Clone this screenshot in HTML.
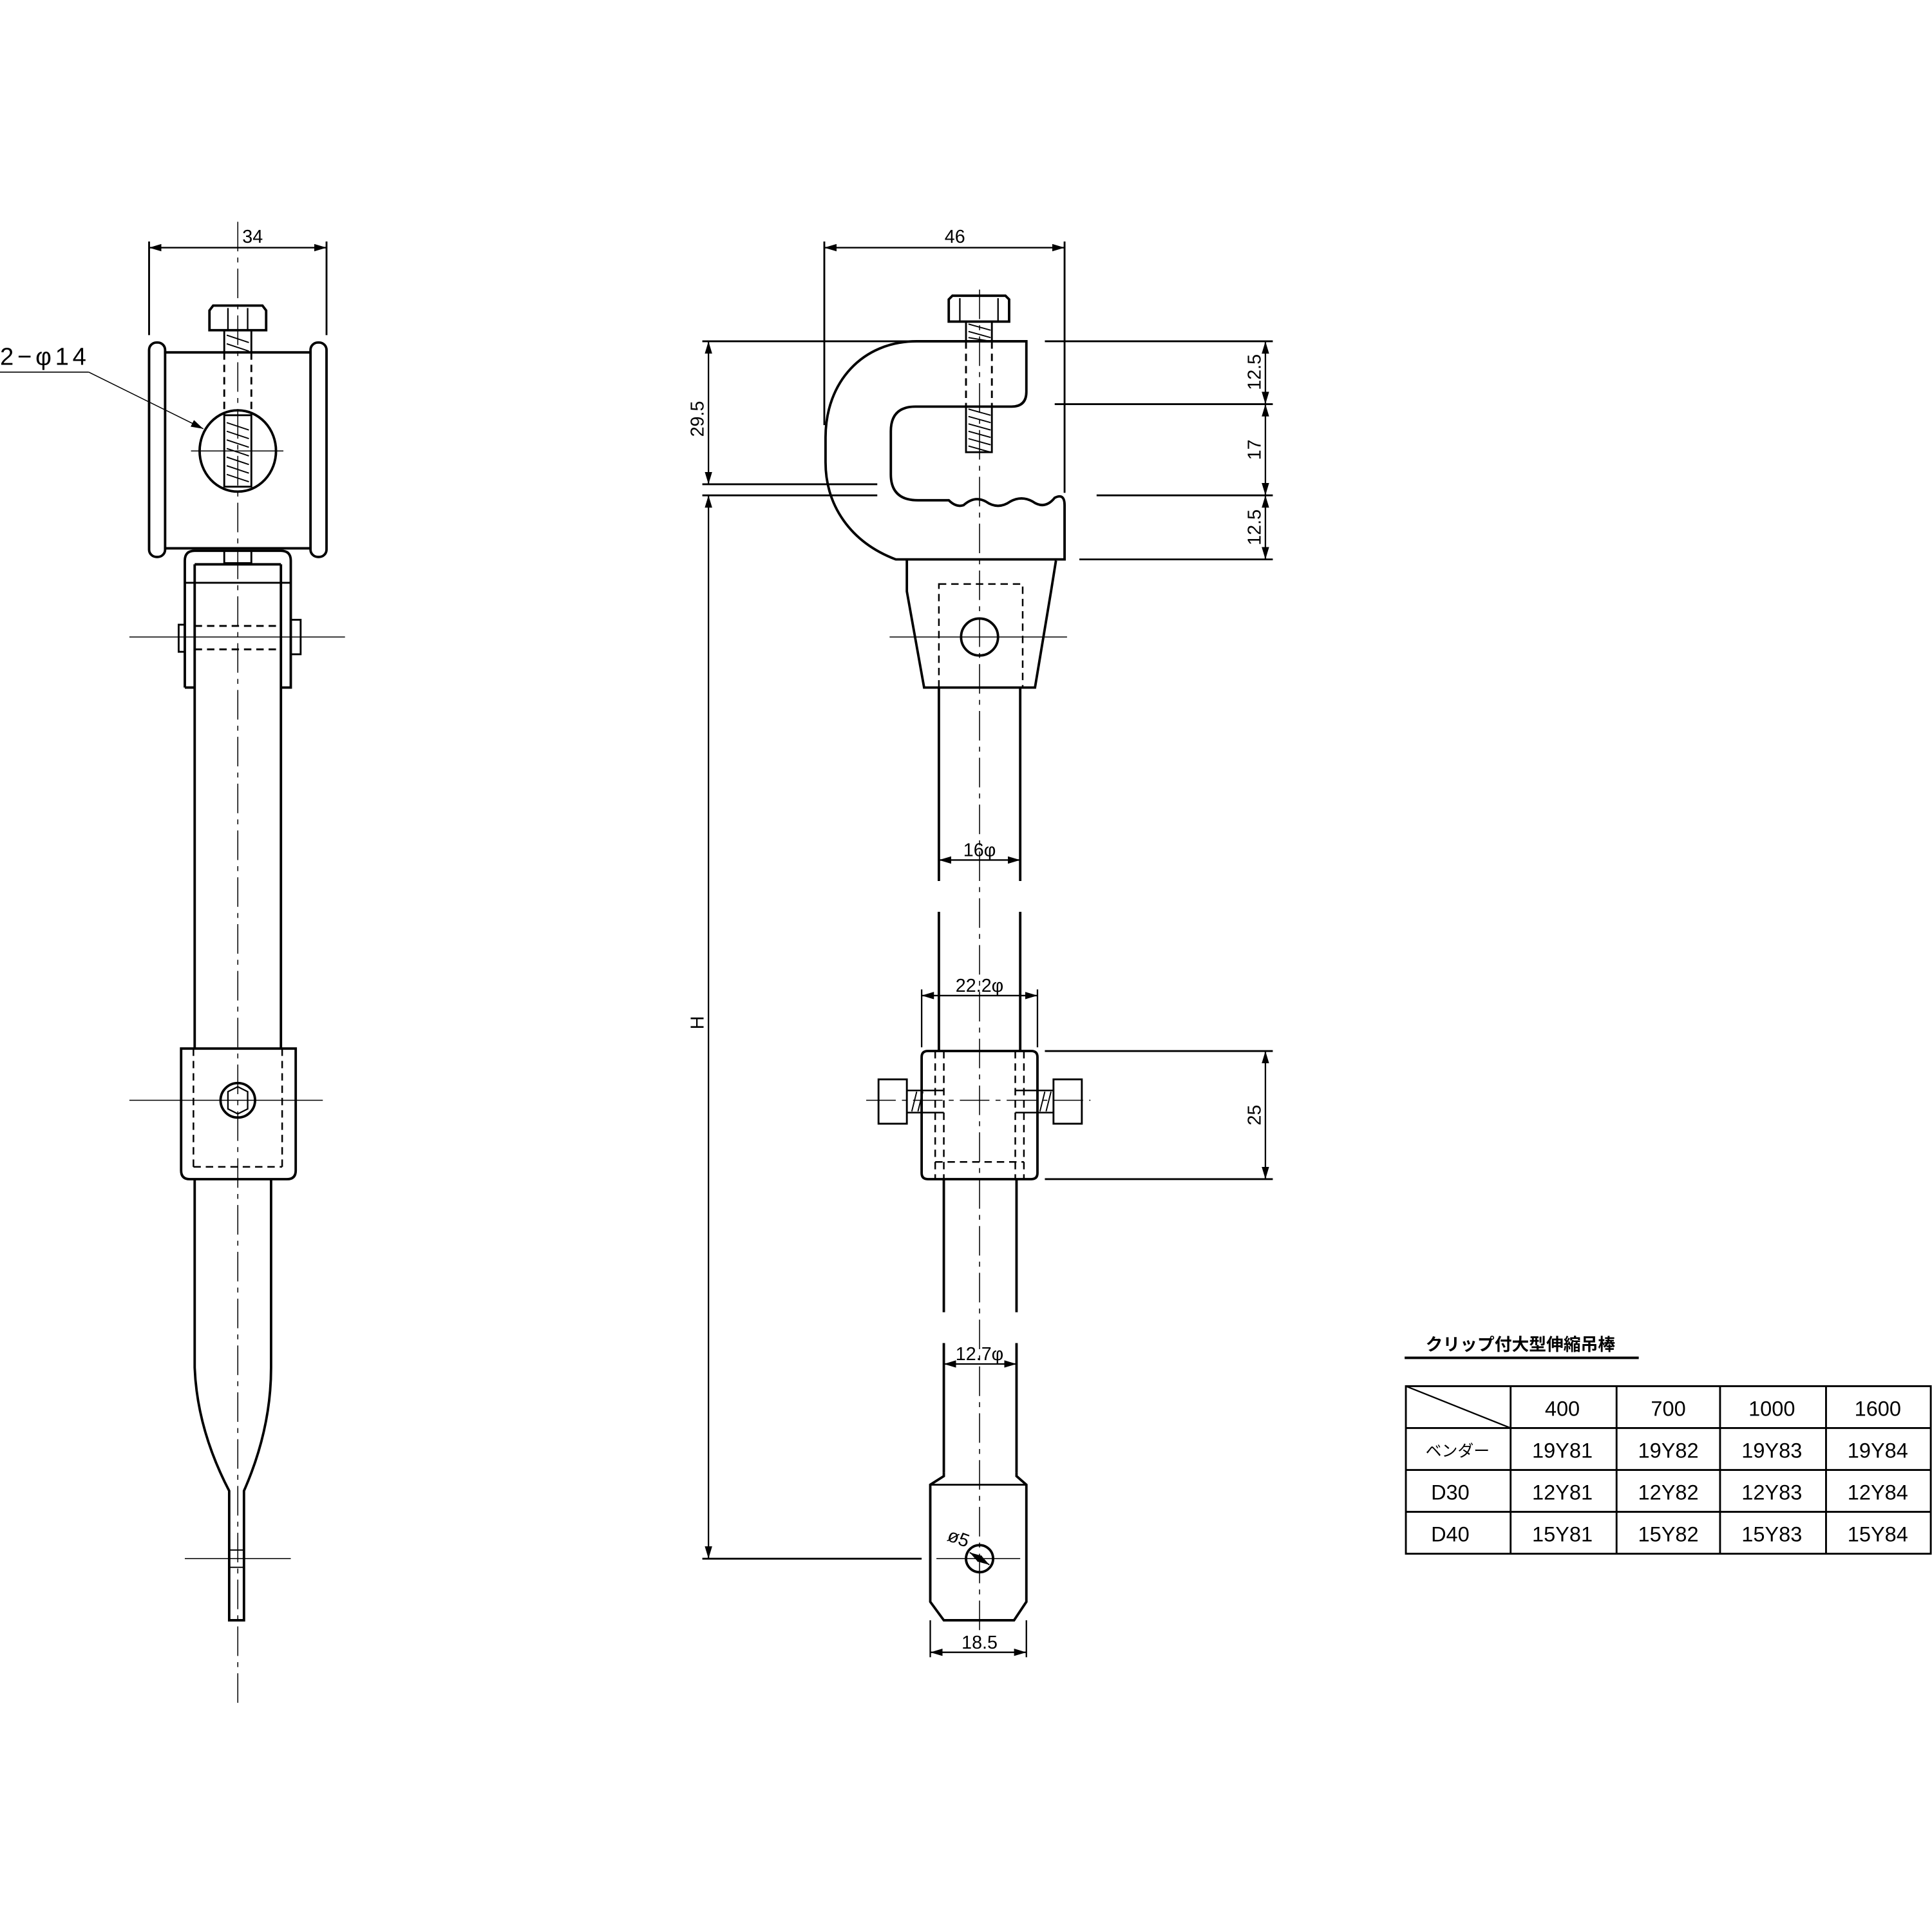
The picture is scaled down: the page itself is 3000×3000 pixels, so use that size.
<!DOCTYPE html>
<html><head><meta charset="utf-8"><style>
html,body{margin:0;padding:0;background:#fff}
svg{display:block}
text{font-family:"Liberation Sans","Noto Sans CJK JP",sans-serif;fill:#000}
</style></head><body>
<svg width="3000" height="3000" viewBox="0 0 1568 1568" xmlns="http://www.w3.org/2000/svg">
<defs>
<marker id="a" viewBox="0 0 10 6" refX="10" refY="3" markerWidth="10" markerHeight="6" orient="auto-start-reverse" markerUnits="userSpaceOnUse"><path d="M0,0 L10,3 L0,6 z" fill="#000"/></marker>
</defs>
<g fill="none" stroke="#000" stroke-width="2">
<!-- ===== LEFT VIEW ===== -->
<line x1="193" y1="180" x2="193" y2="1385" stroke-width="0.8" stroke-dasharray="24,5,4,5"/>
<line x1="121" y1="196" x2="121" y2="272" stroke-width="1.5"/>
<line x1="265" y1="196" x2="265" y2="272" stroke-width="1.5"/>
<line x1="121" y1="201" x2="265" y2="201" stroke-width="1.2" marker-start="url(#a)" marker-end="url(#a)"/>
<rect x="121" y="278" width="13" height="174" rx="6"/>
<rect x="252" y="278" width="13" height="174" rx="6"/>
<line x1="134" y1="286" x2="252" y2="286"/>
<line x1="134" y1="445" x2="252" y2="445"/>
<path d="M170,252 L173,248 L213,248 L216,252 L216,268 L170,268 Z"/>
<line x1="185" y1="250" x2="185" y2="268" stroke-width="1.2"/>
<line x1="201" y1="250" x2="201" y2="268" stroke-width="1.2"/>
<rect x="182" y="268" width="22" height="18" stroke-width="1.5"/>
<line x1="182" y1="286" x2="182" y2="337" stroke-dasharray="6,4" stroke-width="1.5"/>
<line x1="204" y1="286" x2="204" y2="337" stroke-dasharray="6,4" stroke-width="1.5"/>
<rect x="182" y="337" width="22" height="58" stroke-width="1.5"/>
<path d="M184,343 L202,349 M184,350 L202,356 M184,357 L202,363 M184,364 L202,370 M184,371 L202,377 M184,378 L202,384 M184,385 L202,391 M184,272 L202,278 M184,279 L202,285" stroke-width="1"/>
<ellipse cx="193" cy="366" rx="31" ry="33"/>
<line x1="155" y1="366" x2="230" y2="366" stroke-width="0.8"/>
<line x1="0" y1="302" x2="72" y2="302" stroke-width="0.8"/>
<line x1="72" y1="302" x2="165" y2="348" stroke-width="0.8" marker-end="url(#a)"/>
<path d="M150,558 L150,455 Q150,447 158,447 L228,447 Q236,447 236,455 L236,558 L228,558"/>
<path d="M150,558 L158,558"/>
<line x1="150" y1="473" x2="236" y2="473" stroke-width="1.5"/>
<rect x="182" y="447" width="22" height="10" stroke-width="1.5"/>
<rect x="145" y="507" width="5" height="22" stroke-width="1.5"/>
<rect x="236" y="503" width="8" height="28" stroke-width="1.5"/>
<line x1="158" y1="508" x2="228" y2="508" stroke-dasharray="6,4" stroke-width="1.5"/>
<line x1="158" y1="527" x2="228" y2="527" stroke-dasharray="6,4" stroke-width="1.5"/>
<line x1="105" y1="517" x2="280" y2="517" stroke-width="0.8"/>
<line x1="158" y1="458" x2="158" y2="851"/>
<line x1="228" y1="458" x2="228" y2="851"/>
<line x1="158" y1="458" x2="228" y2="458"/>
<path d="M147,851 L240,851 L240,950 Q240,957 233,957 L154,957 Q147,957 147,950 Z"/>
<line x1="157" y1="851" x2="157" y2="947" stroke-dasharray="6,4" stroke-width="1.3"/>
<line x1="229" y1="851" x2="229" y2="947" stroke-dasharray="6,4" stroke-width="1.3"/>
<line x1="157" y1="947" x2="229" y2="947" stroke-dasharray="6,4" stroke-width="1.3"/>
<circle cx="193" cy="893" r="14"/>
<polygon points="185,886 193,882 201,886 201,900 193,904 185,900" stroke-width="1.2"/>
<line x1="105" y1="893" x2="262" y2="893" stroke-width="0.8"/>
<path d="M158,957 L158,1110 Q160,1160 186,1210 L186,1315 L198,1315 L198,1210 Q220,1160 220,1110 L220,957"/>
<line x1="186" y1="1258" x2="198" y2="1258" stroke-width="1"/>
<line x1="186" y1="1272" x2="198" y2="1272" stroke-width="1"/>
<line x1="150" y1="1265" x2="236" y2="1265" stroke-width="0.8"/>

<!-- ===== RIGHT VIEW ===== -->
<line x1="795" y1="235" x2="795" y2="1330" stroke-width="0.8" stroke-dasharray="24,5,4,5"/>
<line x1="669" y1="196" x2="669" y2="345" stroke-width="1.5"/>
<line x1="864" y1="196" x2="864" y2="400" stroke-width="1.5"/>
<line x1="669" y1="201" x2="864" y2="201" stroke-width="1.2" marker-start="url(#a)" marker-end="url(#a)"/>
<path d="M744,277 L833,277 L833,318 Q833,330 821,330 L743,330 Q723,330 723,350 L723,385 Q723,406 745,406 L770,406 Q776,412 782,410 Q791,402 800,407 Q810,414 820,407 Q829,402 838,407 Q848,414 856,404 Q864,400 864,410 L864,454 L727,454 C690,440 670,410 670,375 L670,355 C670,310 700,277 744,277 Z"/>
<path d="M770,243 L773,240 L816,240 L819,243 L819,261 L770,261 Z"/>
<line x1="779" y1="242" x2="779" y2="261" stroke-width="1.2"/>
<line x1="810" y1="242" x2="810" y2="261" stroke-width="1.2"/>
<rect x="784" y="261" width="21" height="16" stroke-width="1.5"/>
<path d="M786,263 L804,268 M786,269 L804,274 M786,274 L804,277" stroke-width="1"/>
<line x1="784" y1="277" x2="784" y2="330" stroke-dasharray="6,4" stroke-width="1.5"/>
<line x1="805" y1="277" x2="805" y2="330" stroke-dasharray="6,4" stroke-width="1.5"/>
<rect x="784" y="330" width="21" height="37" stroke-width="1.5"/>
<path d="M786,332 L804,337 M786,338 L804,343 M786,344 L804,349 M786,350 L804,355 M786,356 L804,361 M786,362 L804,367" stroke-width="1"/>
<path d="M736,455 L736,480 L750,558 L840,558 L853,480 L857,455"/>
<rect x="762" y="474" width="68" height="84" stroke-dasharray="6,4" stroke-width="1.3"/>
<circle cx="795" cy="517" r="15"/>
<line x1="722" y1="517" x2="866" y2="517" stroke-width="0.8"/>
<line x1="762" y1="558" x2="762" y2="715"/>
<line x1="828" y1="558" x2="828" y2="715"/>
<line x1="762" y1="740" x2="762" y2="853"/>
<line x1="828" y1="740" x2="828" y2="853"/>
<line x1="762" y1="698" x2="828" y2="698" stroke-width="1.2" marker-start="url(#a)" marker-end="url(#a)"/>
<line x1="748" y1="803" x2="748" y2="850" stroke-width="1.2"/>
<line x1="842" y1="803" x2="842" y2="850" stroke-width="1.2"/>
<line x1="748" y1="808" x2="842" y2="808" stroke-width="1.2" marker-start="url(#a)" marker-end="url(#a)"/>
<path d="M753,853 L837,853 Q842,853 842,858 L842,952 Q842,957 837,957 L753,957 Q748,957 748,952 L748,858 Q748,853 753,853 Z"/>
<line x1="759" y1="853" x2="759" y2="957" stroke-dasharray="6,4" stroke-width="1.3"/>
<line x1="766" y1="853" x2="766" y2="957" stroke-dasharray="6,4" stroke-width="1.3"/>
<line x1="824" y1="853" x2="824" y2="957" stroke-dasharray="6,4" stroke-width="1.3"/>
<line x1="831" y1="853" x2="831" y2="957" stroke-dasharray="6,4" stroke-width="1.3"/>
<line x1="759" y1="943" x2="831" y2="943" stroke-dasharray="6,4" stroke-width="1.3"/>
<rect x="713" y="876" width="23" height="36" stroke-width="1.5"/>
<rect x="855" y="876" width="23" height="36" stroke-width="1.5"/>
<line x1="736" y1="885" x2="766" y2="885" stroke-width="1.3"/>
<line x1="736" y1="903" x2="766" y2="903" stroke-width="1.3"/>
<line x1="824" y1="885" x2="855" y2="885" stroke-width="1.3"/>
<line x1="824" y1="903" x2="855" y2="903" stroke-width="1.3"/>
<path d="M740,902 L744,886 M745,902 L749,886 M844,902 L848,886 M849,902 L853,886" stroke-width="1"/>
<line x1="703" y1="893" x2="885" y2="893" stroke-width="0.8" stroke-dasharray="24,5,4,5"/>
<line x1="766" y1="957" x2="766" y2="1065"/>
<line x1="825" y1="957" x2="825" y2="1065"/>
<line x1="766" y1="1090" x2="766" y2="1195"/>
<line x1="825" y1="1090" x2="825" y2="1195"/>
<line x1="766" y1="1107" x2="825" y2="1107" stroke-width="1.2" marker-start="url(#a)" marker-end="url(#a)"/>
<path d="M766,1195 L766,1198 L755,1205 L755,1300 L766,1315 L823,1315 L833,1300 L833,1205 L825,1198 L825,1195"/>
<line x1="755" y1="1205" x2="833" y2="1205" stroke-width="1.5"/>
<circle cx="795" cy="1265" r="11"/>
<line x1="787" y1="1260" x2="803" y2="1270" stroke-width="1" marker-start="url(#a)" marker-end="url(#a)"/>
<line x1="760" y1="1265" x2="828" y2="1265" stroke-width="0.8"/>
<line x1="755" y1="1315" x2="755" y2="1345" stroke-width="1.2"/>
<line x1="833" y1="1315" x2="833" y2="1345" stroke-width="1.2"/>
<line x1="755" y1="1341" x2="833" y2="1341" stroke-width="1.2" marker-start="url(#a)" marker-end="url(#a)"/>
<line x1="570" y1="277" x2="742" y2="277" stroke-width="1.5"/>
<line x1="570" y1="393" x2="712" y2="393" stroke-width="1.5"/>
<line x1="570" y1="402" x2="712" y2="402" stroke-width="1.5"/>
<line x1="570" y1="1265" x2="748" y2="1265" stroke-width="1.5"/>
<line x1="575" y1="277" x2="575" y2="393" stroke-width="1.2" marker-start="url(#a)" marker-end="url(#a)"/>
<line x1="575" y1="402" x2="575" y2="1265" stroke-width="1.2" marker-start="url(#a)" marker-end="url(#a)"/>
<line x1="848" y1="277" x2="1033" y2="277" stroke-width="1.5"/>
<line x1="856" y1="328" x2="1033" y2="328" stroke-width="1.5"/>
<line x1="890" y1="402" x2="1033" y2="402" stroke-width="1.5"/>
<line x1="876" y1="454" x2="1033" y2="454" stroke-width="1.5"/>
<line x1="1027" y1="277" x2="1027" y2="454" stroke-width="1.2"/>
<path d="M1027,277 l-3,10 h6z M1027,328 l-3,-10 h6z M1027,328 l-3,10 h6z M1027,402 l-3,-10 h6z M1027,402 l-3,10 h6z M1027,454 l-3,-10 h6z" fill="#000" stroke="none"/>
<line x1="848" y1="853" x2="1033" y2="853" stroke-width="1.5"/>
<line x1="848" y1="957" x2="1033" y2="957" stroke-width="1.5"/>
<line x1="1027" y1="853" x2="1027" y2="957" stroke-width="1.2" marker-start="url(#a)" marker-end="url(#a)"/>

<!-- ===== TABLE ===== -->
<line x1="1140" y1="1102" x2="1330" y2="1102" stroke-width="2"/>
<rect x="1141" y="1125" width="426" height="136" stroke-width="1.5"/>
<line x1="1141" y1="1159" x2="1567" y2="1159" stroke-width="1.5"/>
<line x1="1141" y1="1193" x2="1567" y2="1193" stroke-width="1.5"/>
<line x1="1141" y1="1227" x2="1567" y2="1227" stroke-width="1.5"/>
<line x1="1226" y1="1125" x2="1226" y2="1261" stroke-width="1.5"/>
<line x1="1312" y1="1125" x2="1312" y2="1261" stroke-width="1.5"/>
<line x1="1396" y1="1125" x2="1396" y2="1261" stroke-width="1.5"/>
<line x1="1482" y1="1125" x2="1482" y2="1261" stroke-width="1.5"/>
<line x1="1141" y1="1125" x2="1226" y2="1159" stroke-width="1.2"/>
</g>
<g font-size="15">
<text x="205" y="197" text-anchor="middle">34</text>
<text x="0" y="296" font-size="20" letter-spacing="3">2−φ14</text>
<text x="775" y="197" text-anchor="middle">46</text>
<text x="795" y="695" text-anchor="middle">16φ</text>
<text x="795" y="805" text-anchor="middle">22.2φ</text>
<text x="795" y="1104" text-anchor="middle">12.7φ</text>
<text x="795" y="1338" text-anchor="middle">18.5</text>
<text x="768" y="1250" transform="rotate(20 768 1250)">ø5</text>
<text transform="translate(571,340) rotate(-90)" text-anchor="middle">29.5</text>
<text transform="translate(571,830) rotate(-90)" text-anchor="middle">H</text>
<text transform="translate(1023,302) rotate(-90)" text-anchor="middle">12.5</text>
<text transform="translate(1023,365) rotate(-90)" text-anchor="middle">17</text>
<text transform="translate(1023,428) rotate(-90)" text-anchor="middle">12.5</text>
<text transform="translate(1023,905) rotate(-90)" text-anchor="middle">25</text>
<text x="1157" y="1096" font-size="14" font-weight="bold">クリップ付大型伸縮吊棒</text>
</g>
<g font-size="17" text-anchor="middle">
<text x="1268" y="1149">400</text><text x="1354" y="1149">700</text><text x="1438" y="1149">1000</text><text x="1524" y="1149">1600</text>
<text x="1183" y="1182" font-size="13">ベンダー</text>
<text x="1268" y="1183">19Y81</text><text x="1354" y="1183">19Y82</text><text x="1438" y="1183">19Y83</text><text x="1524" y="1183">19Y84</text>
<text x="1177" y="1217">D30</text>
<text x="1268" y="1217">12Y81</text><text x="1354" y="1217">12Y82</text><text x="1438" y="1217">12Y83</text><text x="1524" y="1217">12Y84</text>
<text x="1177" y="1251">D40</text>
<text x="1268" y="1251">15Y81</text><text x="1354" y="1251">15Y82</text><text x="1438" y="1251">15Y83</text><text x="1524" y="1251">15Y84</text>
</g>
</svg>
</body></html>
